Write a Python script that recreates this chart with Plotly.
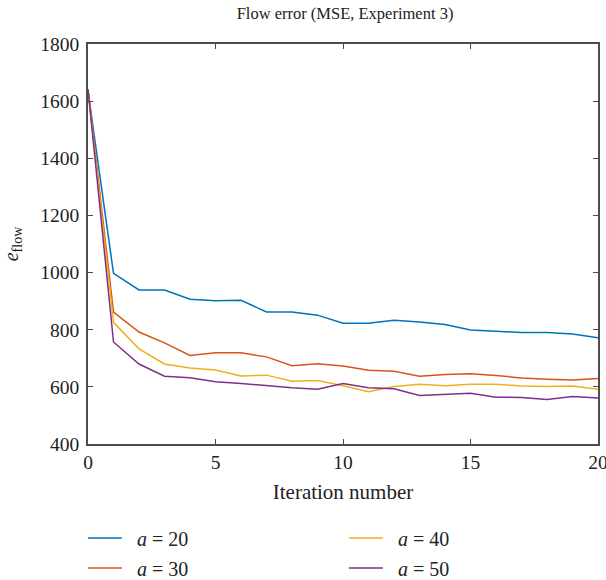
import plotly.graph_objects as go

# Flow error (MSE) per iteration for four values of a
iterations = list(range(21))
err_a20 = [1636, 997, 939, 939, 907, 901, 903, 862, 862, 851, 823, 823, 833, 827, 818, 799, 795, 790, 790, 785, 772]
err_a30 = [1640, 862, 792, 754, 710, 719, 719, 705, 674, 681, 673, 658, 655, 637, 643, 646, 640, 631, 627, 624, 629]
err_a40 = [1640, 826, 733, 680, 666, 659, 638, 641, 620, 622, 604, 583, 601, 609, 604, 609, 609, 603, 601, 603, 592]
err_a50 = [1642, 757, 680, 637, 632, 618, 612, 604, 597, 592, 612, 597, 593, 570, 574, 578, 564, 563, 556, 566, 561]

# (label, values, colour, legend row)
series = [
    ("a = 20", err_a20, "#0072BD", "legend"),
    ("a = 30", err_a30, "#D95319", "legend2"),
    ("a = 40", err_a40, "#EDB120", "legend"),
    ("a = 50", err_a50, "#7E2F8E", "legend2"),
]

SERIF = "Liberation Serif"
AXIS_COLOR = "#4d4d4d"
TEXT_COLOR = "#222"
GAP = "\u00a0\u00a0"

fig = go.Figure()
for name, values, color, row in series:
    var, val = name.split(" = ")
    fig.add_trace(go.Scatter(
        x=iterations, y=values, mode="lines",
        name=f"{GAP}<i>{var}</i> = {val}",
        line=dict(color=color, width=1.5), legend=row,
    ))

axis_common = dict(
    showgrid=False, zeroline=False,
    showline=True, linecolor=AXIS_COLOR, linewidth=1.5,
    mirror="ticks", ticks="inside", ticklen=5, tickwidth=1.2, tickcolor=AXIS_COLOR,
    tickfont=dict(family=SERIF, size=19.5, color=TEXT_COLOR),
    ticklabeloverflow="allow",
)

legend_common = dict(
    orientation="h", x=-0.01, xanchor="left", yanchor="middle",
    entrywidth=212, entrywidthmode="pixels", itemwidth=34,
    font=dict(family=SERIF, size=20, color=TEXT_COLOR),
    bgcolor="rgba(0,0,0,0)",
)

fig.update_layout(
    width=606, height=580,
    margin=dict(l=88, r=8, t=44, b=136, autoexpand=False),
    paper_bgcolor="white", plot_bgcolor="white",
    title=dict(
        text="Flow error (MSE, Experiment 3)",
        x=345 / 606, xanchor="center", y=1 - 13 / 580, yanchor="middle",
        font=dict(family=SERIF, size=16.5, color=TEXT_COLOR),
    ),
    xaxis=dict(
        range=[0, 20], tickvals=[0, 5, 10, 15, 20], ticklabelstandoff=0,
        title=dict(text="Iteration number", font=dict(family=SERIF, size=21, color=TEXT_COLOR), standoff=12),
        **axis_common,
    ),
    yaxis=dict(
        range=[400, 1800], tickvals=[400, 600, 800, 1000, 1200, 1400, 1600, 1800], ticklabelstandoff=3,
        title=dict(text="<i>e</i><sub>flow</sub>", font=dict(family=SERIF, size=20, color=TEXT_COLOR), standoff=19),
        **axis_common,
    ),
    legend=dict(y=-0.235, **legend_common),
    legend2=dict(y=-0.31, **legend_common),
    showlegend=True,
)

fig.write_html("out.html")
